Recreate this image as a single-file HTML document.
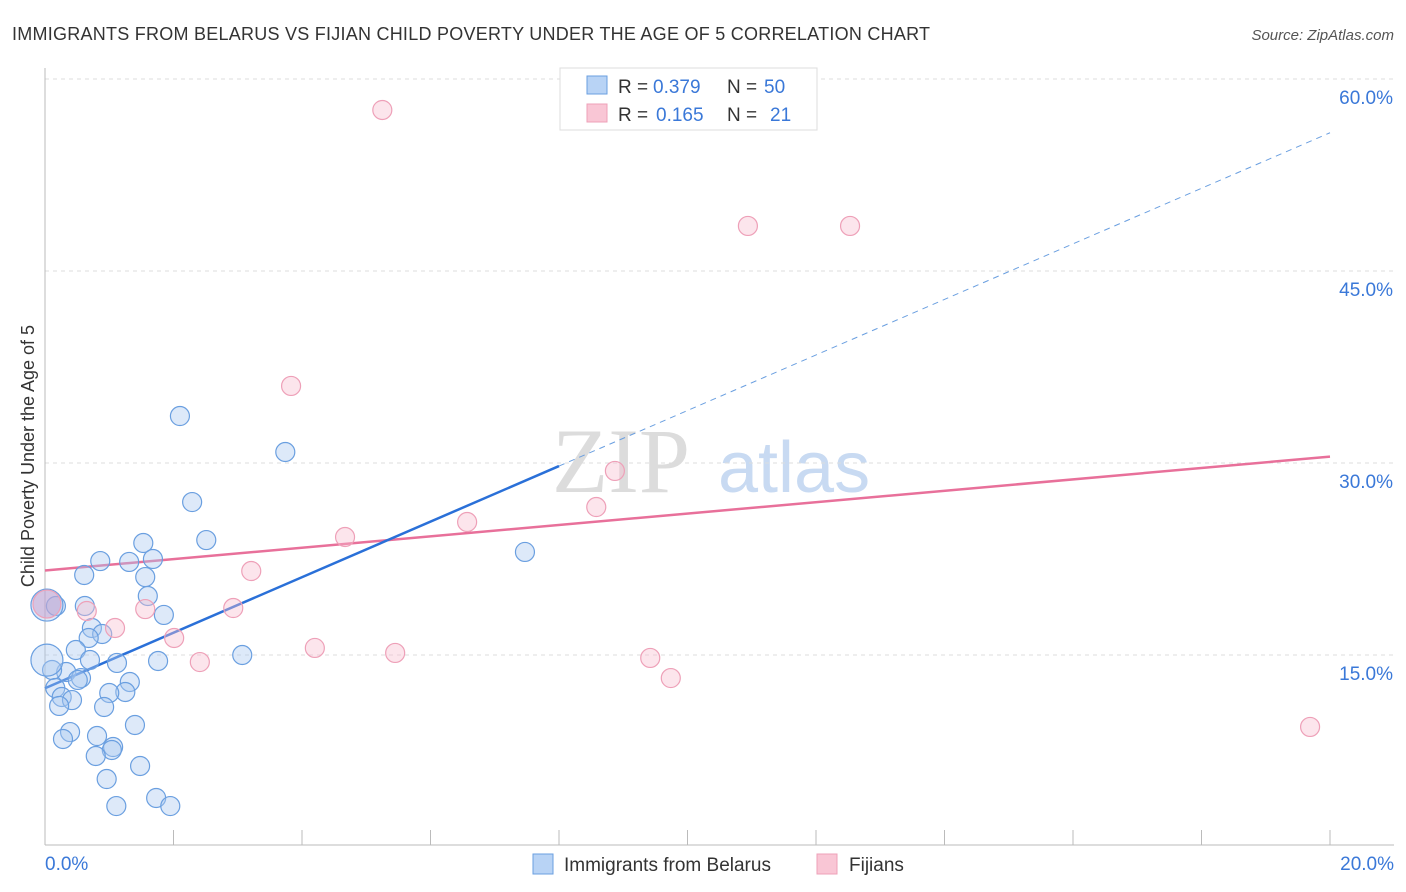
<!DOCTYPE html>
<html><head><meta charset="utf-8"><style>
body{margin:0;background:#fff;font-family:"Liberation Sans",sans-serif;}
svg{display:block}
</style></head><body>
<svg width="1406" height="892" xmlns="http://www.w3.org/2000/svg">
<text x="12" y="40" font-size="18" textLength="918" fill="#333">IMMIGRANTS FROM BELARUS VS FIJIAN CHILD POVERTY UNDER THE AGE OF 5 CORRELATION CHART</text>
<text x="1394" y="40" font-size="15" fill="#555" font-style="italic" text-anchor="end">Source: ZipAtlas.com</text>
<g>
<text x="552" y="492" font-size="92" font-family="Liberation Serif" fill="#dcdcdc">ZIP</text>
<text x="718" y="492" font-size="72" fill="#c8daf2">atlas</text>
</g>
<g id="grid"></g>
<g id="axes"></g>
<text transform="translate(34,456) rotate(-90)" font-size="18" fill="#333" text-anchor="middle">Child Poverty Under the Age of 5</text>
<g id="lines"></g>
<g id="pts"></g>
<g>
<rect x="560" y="68" width="257" height="62" fill="#fff" stroke="#ddd"/>
<rect x="587" y="76" width="20" height="18" fill="#b8d3f5" stroke="#6a9fe0"/>
<rect x="587" y="104" width="20" height="18" fill="#f9c6d5" stroke="#eea0b8"/>
<text x="618" y="93" font-size="19" fill="#333">R =</text>
<text x="653" y="93" font-size="19" fill="#3a78d8">0.379</text>
<text x="727" y="93" font-size="19" fill="#333">N =</text>
<text x="764" y="93" font-size="19" fill="#3a78d8">50</text>
<text x="618" y="121" font-size="19" fill="#333">R =</text>
<text x="656" y="121" font-size="19" fill="#3a78d8">0.165</text>
<text x="727" y="121" font-size="19" fill="#333">N =</text>
<text x="770" y="121" font-size="19" fill="#3a78d8">21</text>
</g>
<g>
<rect x="533" y="854" width="20" height="20" fill="#b8d3f5" stroke="#6a9fe0"/>
<text x="564" y="871" font-size="19" fill="#333">Immigrants from Belarus</text>
<rect x="817" y="854" width="20" height="20" fill="#f9c6d5" stroke="#eea0b8"/>
<text x="849" y="871" font-size="19" fill="#333">Fijians</text>
</g>
</svg>
<script>
const blueX=[2.10,3.74,2.29,2.51,1.53,0.86,1.31,1.68,0.61,1.56,1.60,0.17,0.62,1.85,0.73,0.89,0.68,0.48,1.76,3.07,0.70,1.12,0.33,0.11,0.56,0.51,1.32,0.16,1.25,1.00,0.26,0.42,0.22,0.92,1.40,0.39,0.28,0.81,1.06,1.04,0.79,1.48,0.96,1.73,1.11,1.95,7.47,0.03,0.03];
const blueY=[33.67,30.86,26.95,23.98,23.75,22.34,22.27,22.5,21.25,21.09,19.61,18.83,18.83,18.13,17.11,16.64,16.33,15.39,14.53,15.0,14.61,14.38,13.67,13.83,13.2,13.05,12.89,12.42,12.11,12.03,11.72,11.48,11.02,10.94,9.53,8.98,8.44,8.67,7.81,7.58,7.11,6.33,5.31,3.83,3.2,3.2,23.05,18.9,14.6];
const pinkX=[5.25,10.94,12.53,3.83,8.87,6.57,8.58,4.67,3.21,0.65,1.56,2.93,1.09,2.01,2.41,4.20,5.45,9.42,9.74,19.69,0.03];
const pinkY=[57.58,48.52,48.52,36.02,29.38,25.39,26.56,24.22,21.56,18.44,18.59,18.67,17.11,16.33,14.45,15.55,15.16,14.77,13.2,9.38,18.98];
const yTicks=[15,30,45,60];
const yTickLabels=["15.0%","30.0%","45.0%","60.0%"];
const xTickLabels=["0.0%","20.0%"];
const blueTrend=[12.4,55.8];
const pinkTrend=[21.6,30.5];
const NS="http://www.w3.org/2000/svg";
const sx=v=>45+v/20*1285, sy=v=>847-v*12.8;
function mk(tag,attrs,parent){const e=document.createElementNS(NS,tag);for(const k in attrs)e.setAttribute(k,attrs[k]);document.getElementById(parent).appendChild(e);return e;}
yTicks.forEach((t,i)=>{
 const l=mk('line',{x1:45,x2:1394,y1:sy(t),y2:sy(t),stroke:'#ddd','stroke-dasharray':'4,4'},'grid');
 
 
 const tx=mk('text',{x:1393,y:sy(t)+25,'font-size':19,fill:'#3a78d8','text-anchor':'end'},'grid');
 tx.textContent=yTickLabels[i];
 
 
});
mk('line',{x1:45,x2:45,y1:68,y2:845,stroke:'#bbb'},'axes');
mk('line',{x1:45,x2:1394,y1:845,y2:845,stroke:'#bbb'},'axes');
for(let i=0;i<=10;i++){const x=sx(i*2);mk('line',{x1:x,x2:x,y1:830,y2:845,stroke:'#bbb'},'axes');}
[[0,'start',45],[20,'end',1394]].forEach((d,i)=>{const t=mk('text',{x:d[2],y:870,'font-size':19,fill:'#3a78d8','text-anchor':d[1]},'axes');t.textContent=xTickLabels[i];
 
 });
const pl=mk('line',{x1:sx(0),y1:sy(pinkTrend[0]),x2:sx(20),y2:sy(pinkTrend[1]),stroke:'#e8709a','stroke-width':2.5},'lines');


const bAt=x=>blueTrend[0]+(blueTrend[1]-blueTrend[0])*x/20;
const bl=mk('line',{x1:sx(0),y1:sy(bAt(0)),x2:sx(8),y2:sy(bAt(8)),stroke:'#2a70d8','stroke-width':2.5},'lines');


const bd=mk('line',{x1:sx(8),y1:sy(bAt(8)),x2:sx(20),y2:sy(bAt(20)),stroke:'#6a9fe0','stroke-width':1,'stroke-dasharray':'6,5'},'lines');


blueX.forEach((x,i)=>{const big=i>=blueX.length-2;const c=mk('circle',{cx:sx(x),cy:sy(blueY[i]),r:big?16:9.5,fill:'rgba(170,200,240,0.4)',stroke:'#6a9fe0','stroke-width':1.2},'pts');
 
 });
pinkX.forEach((x,i)=>{const big=i==pinkX.length-1;const c=mk('circle',{cx:sx(x),cy:sy(pinkY[i]),r:big?14:9.5,fill:big?'rgba(200,150,200,0.45)':'rgba(248,190,208,0.4)',stroke:'#eea0b8','stroke-width':1.2},'pts');
 
 });
</script>
</body></html>
